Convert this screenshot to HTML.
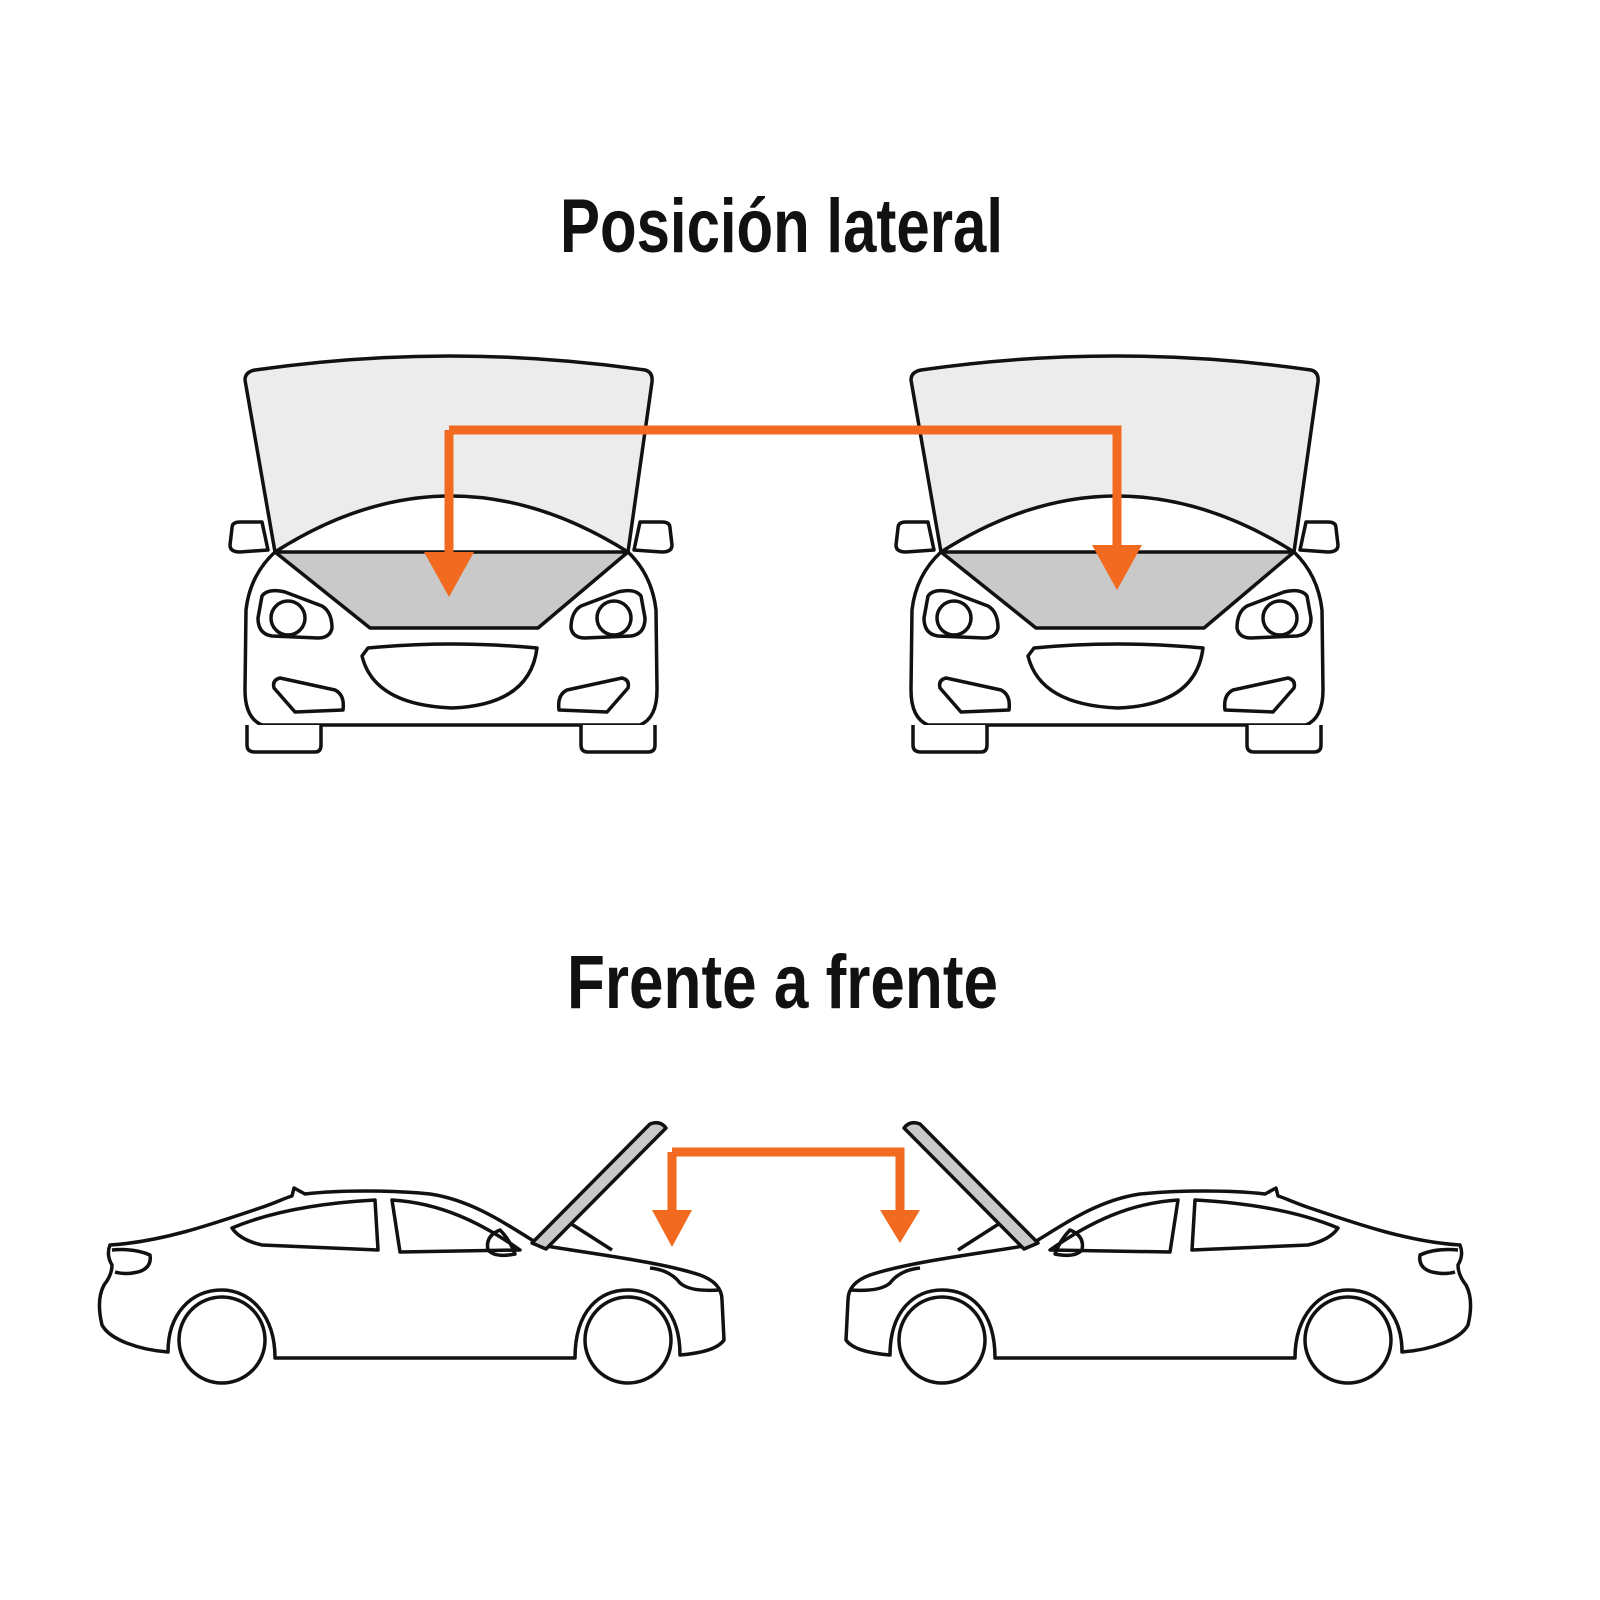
<!DOCTYPE html>
<html><head><meta charset="utf-8"><style>html,body{margin:0;padding:0;background:#fff}svg{display:block}</style></head>
<body>
<svg width="1600" height="1600" viewBox="0 0 1600 1600" xmlns="http://www.w3.org/2000/svg">
<rect width="1600" height="1600" fill="#fff"/>
<text x="560" y="252" font-family="Liberation Sans, sans-serif" font-weight="bold" font-size="76" textLength="443" lengthAdjust="spacingAndGlyphs" fill="#111">Posición lateral</text>
<text x="567" y="1008" font-family="Liberation Sans, sans-serif" font-weight="bold" font-size="76" textLength="431" lengthAdjust="spacingAndGlyphs" fill="#111">Frente a frente</text>
<defs>
<g id="fc" fill="none" stroke="#111" stroke-width="3.5" stroke-linejoin="round">
  <path d="M232,528 Q232,522 240,522 L262,522 L268,550 L240,552 Q230,552 230,545 Z" fill="#fff"/>
  <path d="M670,528 Q670,522 662,522 L640,522 L634,550 L662,552 Q672,552 672,545 Z" fill="#fff"/>
  <path d="M275,552 Q250,575 246,610 L245,690 Q245,718 262,725 L640,725 Q657,718 657,690 L656,610 Q652,575 628,552 Z" fill="#fff"/>
  <path d="M247,725 L247,745 Q247,752 255,752 L315,752 Q321,752 321,745 L321,725" fill="#fff"/>
  <path d="M581,725 L581,745 Q581,752 588,752 L648,752 Q655,752 655,745 L655,725" fill="#fff"/>
  <path d="M245,380 Q245,372 255,370 Q450,342 645,370 Q653,372 652,382 L628,552 L275,552 Z" fill="#ececec"/>
  <path d="M275,552 Q450,440 628,552" fill="#fff"/>
  <path d="M275,552 L628,552 L538,628 L370,628 Z" fill="#c9c9c9"/>
  <path d="M262,596 Q268,588 285,592 L322,606 Q332,612 332,628 Q330,638 318,638 L272,636 Q258,634 258,618 Z"/>
  <circle cx="288" cy="618" r="17"/>
  <path d="M641,596 Q635,588 618,592 L581,606 Q571,612 571,628 Q573,638 585,638 L631,636 Q645,634 645,618 Z"/>
  <circle cx="614" cy="618" r="17"/>
  <path d="M368,648 Q450,640 537,648 Q530,705 452,708 Q374,705 362,656 Z"/>
  <path d="M280,678 L335,690 Q345,695 343,710 L295,712 L274,688 Q272,680 280,678 Z"/>
  <path d="M622,678 L567,690 Q557,695 559,710 L607,712 L628,688 Q630,680 622,678 Z"/>
</g>
<g id="sc" fill="none" stroke="#111" stroke-width="3.5" stroke-linejoin="round">
  <path d="M110,1245 C160,1242 210,1225 260,1208 C275,1203 285,1198 292,1196 L294,1188 L305,1194 C340,1190 390,1190 430,1194 C470,1200 500,1220 540,1245 C600,1255 660,1262 700,1275 Q722,1283 722,1300 L724,1340 Q716,1352 680,1355 C680,1310 655,1290 628,1290 C600,1290 575,1310 575,1358 L275,1358 C275,1315 250,1290 222,1290 C190,1290 168,1315 168,1352 C140,1350 110,1340 102,1325 Q96,1300 104,1285 Q112,1275 112,1265 Q106,1255 110,1245 Z" fill="#fff"/>
  <path d="M112,1250 Q135,1248 150,1255 Q152,1268 138,1272 Q125,1275 115,1272"/>
  <circle cx="222" cy="1340" r="43"/>
  <circle cx="628" cy="1340" r="43"/>
  <path d="M232,1228 C270,1212 320,1203 375,1200 L378,1250 L262,1245 Q240,1240 232,1228 Z"/>
  <path d="M392,1200 C440,1203 480,1222 520,1250 L400,1252 Z"/>
  <path d="M500,1230 Q485,1236 488,1250 Q495,1258 515,1254 Q510,1240 500,1230 Z"/>
  <path d="M650,1268 Q670,1270 680,1283 Q690,1292 720,1290"/>
  <path d="M562,1218 L612,1250"/>
  <path d="M532,1243 L650,1124 Q660,1120 666,1128 L546,1249 Z" fill="#c9c9c9"/>
</g>
</defs>
<use href="#fc"/>
<use href="#fc" transform="translate(666,0)"/>
<use href="#sc"/>
<use href="#sc" transform="translate(1570,0) scale(-1,1)"/>
<g fill="#f26a1f">
  <path d="M449,430 L1117,430 L1117,560 M449,430 L449,560" fill="none" stroke="#f26a1f" stroke-width="9"/>
  <polygon points="424,552 474,552 449,597"/>
  <polygon points="1092,545 1142,545 1117,590"/>
  <path d="M672,1152 L900,1152 L900,1215 M672,1152 L672,1215" fill="none" stroke="#f26a1f" stroke-width="9"/>
  <polygon points="652,1210 692,1210 672,1247"/>
  <polygon points="880,1210 920,1210 900,1243"/>
</g>
</svg>
</body></html>
